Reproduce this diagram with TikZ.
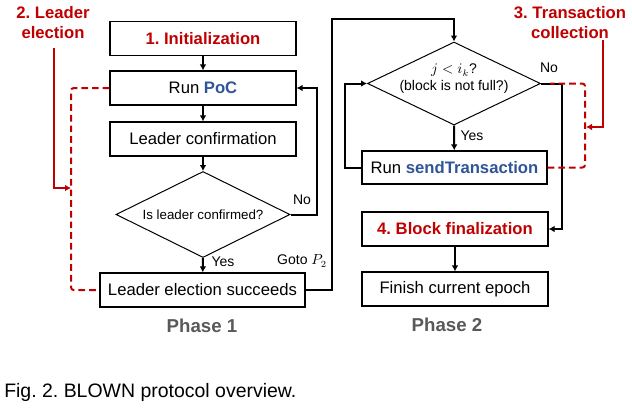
\documentclass[tikz,border=0pt]{standalone}
\usepackage{fontspec}
\setmainfont{Liberation Sans}
\usetikzlibrary{shapes.geometric,arrows.meta}
\definecolor{myred}{RGB}{192,0,0}
\definecolor{myblue}{RGB}{47,85,151}
\definecolor{mygray}{RGB}{89,89,89}
\frenchspacing
\begin{document}
\begin{tikzpicture}[x=0.75pt,y=-0.75pt,
  box/.style={draw,line width=0.9pt,rectangle,inner sep=0pt,minimum width=139.5pt,minimum height=25.5pt,font=\fontsize{12.5}{14}\selectfont},
  dia/.style={draw,line width=0.75pt,diamond,inner sep=0pt},
  arr/.style={line width=1.5pt,-{Latex[length=4.5pt,width=5pt]}},
  reddash/.style={draw=myred,line width=1.5pt,dash pattern=on 5pt off 3pt,rounded corners=2pt},
  redarr/.style={draw=myred,line width=1.5pt,-{Latex[length=4.5pt,width=5pt]}},
  lbl/.style={font=\fontsize{10.5}{12}\selectfont,inner sep=0pt},
  redlbl/.style={text=myred,font=\fontsize{12.5}{15}\selectfont\bfseries,align=center,inner sep=0pt},
  phase/.style={text=mygray,font=\fontsize{14}{16}\selectfont\bfseries,inner sep=0pt}]
\useasboundingbox (0,0) rectangle (632,408);

% Phase 1
\node[box] (init) at (203,38.5) {\textcolor{myred}{\bfseries 1. Initialization}};
\node[box] (poc) at (203,88) {Run \textcolor{myblue}{\bfseries PoC}};
\node[box] (conf) at (203,139) {Leader confirmation};
\node[dia,minimum width=130.5pt,minimum height=64.5pt] (dia1) at (203,214.5) {};
\node[font=\fontsize{10}{12}\selectfont,inner sep=0pt] (dia1t) at (dia1.center) {Is leader confirmed?};
\node[box,minimum width=153.75pt] (elect) at (202.5,290) {Leader election succeeds};
\node[phase] (ph1) at (202,326) {Phase 1};

% Phase 2
\node[dia,minimum width=129.75pt,minimum height=62.25pt] (dia2) at (454,83.5) {};
\node[font=\fontsize{10.5}{12.75}\selectfont,align=center,inner sep=0pt] (dia2t) at (454,79) {$j<i_k$?\\(block is not full?)};
\node[box,minimum width=138.75pt,minimum height=24.75pt] (send) at (454.5,167.5) {Run \textcolor{myblue}{\bfseries sendTransaction}};
\node[box] (fin) at (455,229) {\textcolor{myred}{\bfseries 4. Block finalization}};
\node[box] (epoch) at (455,289) {Finish current epoch};
\node[phase] (ph2) at (447,325) {Phase 2};

% black connectors
\draw[arr] (init) -- (poc);
\draw[arr] (poc) -- (conf);
\draw[arr] (conf) -- (dia1.north);
\draw[arr] (dia1.south) -- (elect);
\coordinate (r1) at (317,214.5);
\draw[arr] (dia1.east) -- (r1) |- (poc.east);
\coordinate (g1) at (332,19);
\draw[arr] (elect.east) -| (g1) -| (dia2.north);
\draw[arr] (dia2.south) -- (send);
\coordinate (l2) at (345,167.5);
\draw[arr] (send.west) -- (l2) |- (dia2.west);
\coordinate (r2) at (562,83.5);
\draw[arr] (dia2.east) -- (r2) |- (fin.east);
\draw[arr] (fin) -- (epoch);

% labels
\node[lbl] (no1) at (302,200) {No};
\node[lbl] (yes1) at (223,262) {Yes};
\node[lbl] (goto) at (302,261) {Goto $P_2$};
\node[lbl] (no2) at (549,68) {No};
\node[lbl] (yes2) at (472,136) {Yes};

% red annotations
\coordinate (d1) at (71,190);
\draw[reddash] (poc.west) -| (d1) |- (elect.west);
\coordinate (d2) at (585,120);
\coordinate (t3) at (550,83.5);
\draw[reddash] (send.east) -| (d2) |- (t3);

\node[redlbl] (lab2) at (53,23) {2. Leader\\election};
\coordinate (s2) at (54,48);
\coordinate (a2) at (71,188);
\draw[redarr] (s2) |- (a2);

\node[redlbl] (lab3) at (570,23) {3. Transaction\\collection};
\coordinate (s3) at (603,40);
\coordinate (a3) at (586,127);
\draw[redarr] (s3) |- (a3);

% caption
\node[anchor=west,inner sep=0pt,font=\fontsize{14.6}{17}\selectfont] (cap) at (4,392) {Fig. 2. BLOWN protocol overview.};
\end{tikzpicture}
\end{document}
